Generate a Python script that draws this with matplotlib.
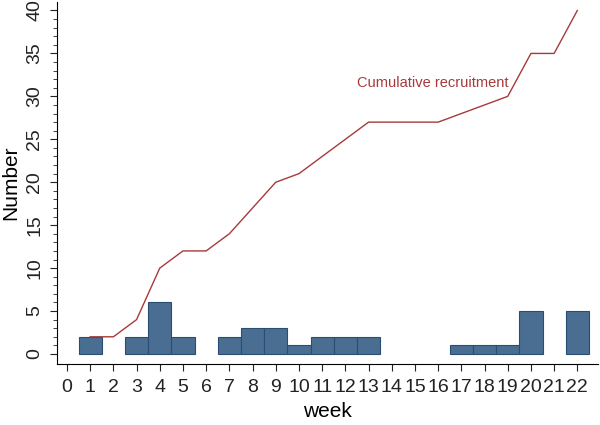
import numpy as np
import matplotlib
matplotlib.use("Agg")
import matplotlib.pyplot as plt

plt.rcParams['font.family'] = ['Liberation Sans', 'DejaVu Sans']

weeks = np.arange(1, 23)
counts = [2, 0, 2, 6, 2, 0, 2, 3, 3, 1, 2, 2, 2, 0, 0, 0, 1, 1, 1, 5, 0, 5]
cumulative = np.cumsum(counts)

bar_color = '#4a6e92'
edge_color = '#2a4d74'
line_color = '#a63a3a'

fig = plt.figure(figsize=(6, 4.25), dpi=100)
ax = fig.add_axes([0.095, 0.1435, 0.902, 0.852])

# only weeks with recruits get a bar
bw = [w for w, c in zip(weeks, counts) if c > 0]
bc = [c for c in counts if c > 0]
ax.bar(bw, bc, width=1.0, color=bar_color, edgecolor=edge_color, linewidth=0.8, zorder=2)
ax.plot(weeks, cumulative, color=line_color, linewidth=1.0, zorder=3)
ax.text(12.5, 31.6, 'Cumulative recruitment', color=line_color, fontsize=10.5,
        ha='left', va='center')

ax.set_xlim(-0.43, 22.9)
ax.set_ylim(-1.17, 41.0)
ax.set_xticks(range(0, 23))
ax.set_yticks(range(0, 41, 5))
ax.set_yticks(range(0, 41), minor=True)
ax.tick_params(axis='both', which='major', direction='out', length=5, width=0.8,
               labelsize=14, colors='#222222')
ax.tick_params(axis='x', which='major', pad=6)
ax.tick_params(axis='y', which='major', labelrotation=90, pad=5)
ax.tick_params(axis='y', which='minor', direction='out', length=3, width=0.6, colors='#222222')
for lab in ax.get_yticklabels():
    lab.set_va('center')
ax.spines['top'].set_visible(False)
ax.spines['right'].set_visible(False)
ax.spines['left'].set_linewidth(0.8)
ax.spines['bottom'].set_linewidth(0.8)
ax.set_xlabel('week', fontsize=15, labelpad=4)
ax.set_ylabel('Number', fontsize=15, labelpad=4)

fig.savefig('out.png', dpi=100)
